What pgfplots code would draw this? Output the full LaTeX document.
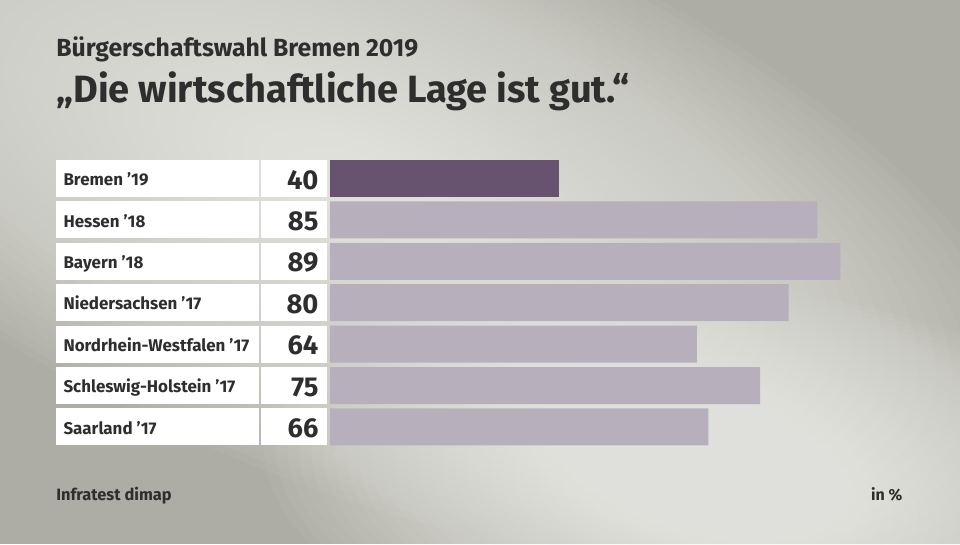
\documentclass[border=0pt]{standalone}
\usepackage{pgfplots}
\pgfplotsset{compat=1.18}
\usepackage{fontspec}
\setmainfont{Fira Sans}
\definecolor{txt}{HTML}{2E2E2E}
\definecolor{bgbase}{HTML}{ADADA5}
\definecolor{glow}{HTML}{F6F6F2}
\definecolor{dark}{HTML}{675370}
\definecolor{light}{HTML}{B7AFBC}
\tikzset{
  lbl/.style={anchor=base west, text=txt, font=\bfseries\fontsize{12.7}{15}\selectfont, inner sep=0pt, yshift=-5.4pt},
  val/.style={anchor=base east, text=txt, font=\bfseries\fontsize{20.5}{24}\selectfont, inner sep=0pt, yshift=-7.9pt},
}
\begin{document}
\begin{tikzpicture}
\fill[bgbase] (0,0) rectangle (720pt,-408pt);
\begin{scope}
\clip (0,0) rectangle (720pt,-408pt);
\begin{scope}[shift={(270pt,-140pt)}, rotate=-22]
\foreach \i in {1,...,40} {
  \fill[glow, opacity=0.042] (0,0) ellipse ({\i*13.5pt} and {\i*5.6pt});
}
\end{scope}
\begin{scope}[shift={(555pt,-375pt)}, rotate=-8]
\foreach \i in {1,...,40} {
  \fill[glow, opacity=0.045] (0,0) ellipse ({\i*9pt} and {\i*4pt});
}
\end{scope}
\end{scope}
\node[anchor=base west, text=txt, font=\bfseries\fontsize{18.6}{22}\selectfont, inner sep=0pt] at (42pt,-42.5pt) {Bürgerschaftswahl Bremen 2019};
\node[anchor=base west, text=txt, font=\bfseries\fontsize{28.5}{33}\selectfont, inner sep=0pt] at (42pt,-77pt) {„Die wirtschaftliche Lage ist gut.“};
\node[anchor=base west, text=txt, font=\bfseries\fontsize{12.3}{14}\selectfont, inner sep=0pt] at (42pt,-375.5pt) {Infratest dimap};
\node[anchor=base east, text=txt, font=\bfseries\fontsize{12}{14}\selectfont, inner sep=0pt] at (677pt,-375.5pt) {in \%};
\begin{axis}[
  at={(42pt,-118.35pt)}, anchor=north west,
  scale only axis, width=635.5pt, height=217.35pt,
  xmin=-47.79, xmax=100, ymin=-0.5, ymax=6.5, y dir=reverse,
  axis lines=none, xbar, bar width=27.75pt, bar shift=0pt, clip=false,
]
\pgfplotsinvokeforeach{0,...,6}{
  \fill[white] (axis cs:-47.79,#1-0.447) rectangle (axis cs:-12.38,#1+0.447);
  \fill[white] (axis cs:-12.03,#1-0.447) rectangle (axis cs:-0.52,#1+0.447);
}
\addplot[fill=dark, draw=none] coordinates {(40,0)};
\addplot[fill=light, draw=none] coordinates {(85,1) (89,2) (80,3) (64,4) (75,5) (66,6)};
\node[lbl] at (axis cs:-46.52,0) {Bremen ’19};
\node[lbl] at (axis cs:-46.52,1) {Hessen ’18};
\node[lbl] at (axis cs:-46.52,2) {Bayern ’18};
\node[lbl] at (axis cs:-46.52,3) {Niedersachsen ’17};
\node[lbl] at (axis cs:-46.52,4) {Nordrhein-Westfalen ’17};
\node[lbl] at (axis cs:-46.52,5) {Schleswig-Holstein ’17};
\node[lbl] at (axis cs:-46.52,6) {Saarland ’17};
\node[val] at (axis cs:-1.97,0) {40};
\node[val] at (axis cs:-1.97,1) {85};
\node[val] at (axis cs:-1.97,2) {89};
\node[val] at (axis cs:-1.97,3) {80};
\node[val] at (axis cs:-1.97,4) {64};
\node[val] at (axis cs:-1.97,5) {75};
\node[val] at (axis cs:-1.97,6) {66};
\end{axis}
\end{tikzpicture}
\end{document}
